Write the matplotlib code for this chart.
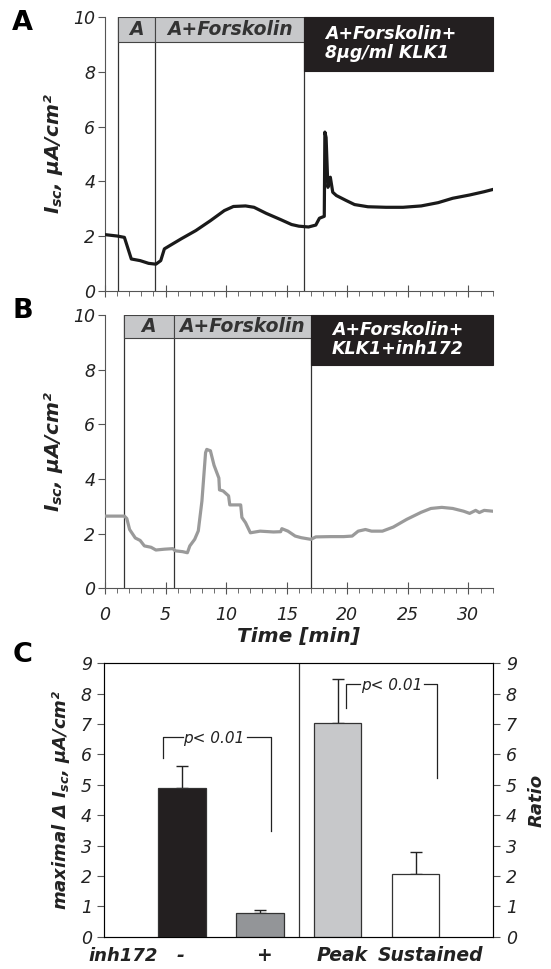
import matplotlib
matplotlib.use("Agg")
import matplotlib.pyplot as plt
from matplotlib.patches import Rectangle
from matplotlib.ticker import MultipleLocator

plt.rcParams['font.family'] = ['DejaVu Sans']
plt.rcParams['font.style'] = 'italic'
plt.rcParams['mathtext.fontset'] = 'custom'
plt.rcParams['mathtext.it'] = 'DejaVu Sans:italic:bold'
plt.rcParams['mathtext.rm'] = 'DejaVu Sans:italic:bold'

# --- panel A trace (time in min, Isc in uA/cm2) ---
a_time = [0, 1.0, 1.6, 2.17, 2.9, 3.6, 4.2, 4.6, 4.9, 5.35, 6.3, 7.5, 8.7, 9.85,
          10.6, 11.6, 12.3, 13.3, 14.5, 15.4, 16.0, 16.8, 17.4, 17.7, 18.1, 18.15,
          18.25, 18.4, 18.6, 18.8, 19.1, 19.9, 20.6, 21.7, 23.2, 24.6, 26.1, 27.5,
          28.7, 30.1, 31.3, 32]
a_isc = [2.05, 2.0, 1.95, 1.16, 1.1, 1.0, 0.97, 1.1, 1.53, 1.65, 1.9, 2.2, 2.56, 2.93,
         3.08, 3.1, 3.05, 2.83, 2.6, 2.42, 2.36, 2.33, 2.4, 2.65, 2.72, 5.8,
         5.6, 3.78, 4.15, 3.6, 3.48, 3.3, 3.15, 3.07, 3.05, 3.05, 3.1, 3.22,
         3.38, 3.5, 3.62, 3.7]

# --- panel B trace ---
b_time = [0, 1.6, 1.8, 2.03, 2.5, 2.9, 3.25, 3.8, 4.2, 4.9, 5.6, 5.8, 6.4, 6.8, 7.0,
          7.4, 7.7, 8.0, 8.3, 8.4, 8.7, 9.0, 9.4, 9.45, 9.75, 10.2, 10.3, 11.2, 11.3,
          11.6, 12.0, 12.8, 13.9, 14.5, 14.6, 15.1, 15.7, 16.2, 17.0, 17.4, 18.6,
          19.7, 20.4, 20.9, 21.5, 22.0, 22.9, 23.8, 24.9, 26.1, 26.9, 27.8, 28.7,
          29.6, 30.1, 30.6, 30.9, 31.3, 32]
b_isc = [2.64, 2.64, 2.55, 2.15, 1.84, 1.75, 1.55, 1.5, 1.4, 1.43, 1.45, 1.37, 1.34,
         1.3, 1.55, 1.79, 2.1, 3.19, 4.96, 5.08, 5.03, 4.5, 4.03, 3.6, 3.56, 3.38,
         3.05, 3.05, 2.59, 2.4, 2.03, 2.09, 2.06, 2.07, 2.18, 2.09, 1.91, 1.85, 1.79,
         1.88, 1.89, 1.89, 1.91, 2.09, 2.15, 2.09, 2.09, 2.24, 2.52, 2.78, 2.92, 2.96,
         2.92, 2.82, 2.74, 2.85, 2.77, 2.85, 2.82]

# treatment phases: (start, end, label)
a_phases = [(1.1, 4.15, "A"), (4.15, 16.43, "A+Forskolin"),
            (16.43, 32, "A+Forskolin+\n8\u03bcg/ml KLK1")]
b_phases = [(1.59, 5.66, "A"), (5.66, 17.04, "A+Forskolin"),
            (17.04, 32, "A+Forskolin+\nKLK1+inh172")]
a_box_bottoms = (9.11, 8.04)   # gray, black
b_box_bottoms = (9.15, 8.17)

# --- panel C bars ---
c_labels = ["-", "+", "Peak", "Sustained"]
c_label_x = [0.98, 2.05, 3.06, 4.19]
c_values = [4.88, 0.79, 7.02, 2.05]
c_errors = [0.75, 0.09, 1.45, 0.73]
c_colors = ["#231f20", "#939598", "#c7c8ca", "white"]
# significance brackets: (x_left, y_left_bottom, x_right, y_right_bottom, y_top, text_x)
c_brackets = [(0.76, 5.87, 2.14, 3.47, 6.57, 1.41),
              (3.11, 7.54, 4.28, 5.23, 8.33, 3.69)]

fig = plt.figure(figsize=(5.51, 9.69), dpi=100)
TXT = "#222222"
SP = "#555555"


def trace_panel(ax, t, v, phases, boxes, color, show_x):
    ax.plot(t, v, color=color, lw=2.3, zorder=3)
    ax.set_xlim(0, 32)
    ax.set_ylim(0, 10)
    for s in ("top", "right"):
        ax.spines[s].set_visible(False)
    ax.spines["left"].set_color(SP)
    ax.spines["bottom"].set_color(SP)
    ax.yaxis.set_major_locator(MultipleLocator(2))
    ax.xaxis.set_major_locator(MultipleLocator(5))
    ax.xaxis.set_minor_locator(MultipleLocator(1))
    ax.tick_params(axis="y", direction="out", length=5, labelsize=12.5, colors=SP,
                   labelcolor=TXT, pad=2)
    ax.tick_params(axis="x", which="major", direction="inout", length=8, colors=SP,
                   labelcolor=TXT, labelsize=12.5, pad=9)
    ax.tick_params(axis="x", which="minor", direction="out", length=3.5, colors=SP)
    if not show_x:
        ax.tick_params(axis="x", labelbottom=False)
    gray_bottom, black_bottom = boxes
    for i, (s, e, lab) in enumerate(phases):
        ax.axvline(s, color="#333333", lw=0.9, zorder=2)
        if i == len(phases) - 1:
            ax.add_patch(Rectangle((s, black_bottom), e - s, 10 - black_bottom,
                                   facecolor="#231f20", edgecolor="#231f20", lw=0.8,
                                   zorder=4, clip_on=False))
            ax.text(s + 1.7, (black_bottom + 10) / 2 + 0.02, lab, color="white",
                    fontsize=12.5, fontweight="bold", ha="left", va="center", zorder=5,
                    linespacing=1.05)
        else:
            ax.add_patch(Rectangle((s, gray_bottom), e - s, 10 - gray_bottom,
                                   facecolor="#c7c8ca", edgecolor="#444444", lw=0.8,
                                   zorder=4))
            ax.text((s + e) / 2, (gray_bottom + 10) / 2, lab, color="#333333",
                    fontsize=13.5, fontweight="bold", ha="center", va="center", zorder=5)
    ax.set_ylabel("$I_{sc}$, \u03bcA/cm\u00b2", fontsize=14.5, fontweight="bold",
                  color=TXT, labelpad=6)


axA = fig.add_axes([0.1906, 0.700, 0.7035, 0.2822])
trace_panel(axA, a_time, a_isc, a_phases, a_box_bottoms, "#1a1a1a", False)
axB = fig.add_axes([0.1906, 0.3929, 0.7035, 0.2821])
trace_panel(axB, b_time, b_isc, b_phases, b_box_bottoms, "#9a9a9a", True)
axB.set_xlabel("Time [min]", fontsize=14.5, fontweight="bold", color=TXT, labelpad=2)

# --- panel C ---
axC = fig.add_axes([0.1893, 0.0333, 0.7060, 0.2822])
pos = [1, 2, 3, 4]
axC.bar(pos, c_values, width=0.61, color=c_colors, edgecolor="#333333", lw=0.9, zorder=3)
axC.errorbar(pos, c_values, yerr=[[0] * 4, c_errors], fmt="none", ecolor="#222222",
             elinewidth=1, capsize=4, capthick=1, zorder=2)
axC.set_xlim(0, 5)
axC.set_ylim(0, 9)
axC.axvline(2.5, color="#333333", lw=0.9)
axC.yaxis.set_major_locator(MultipleLocator(1))
axC.tick_params(axis="y", direction="out", length=5, labelsize=12.5, colors=SP,
                labelcolor=TXT, pad=4)
axC.set_xticks([])
for s in axC.spines.values():
    s.set_color(SP)
for lx, lab in zip(c_label_x, c_labels):
    axC.text(lx, -0.3, lab, fontsize=13.5, fontweight="bold", color=TXT,
             ha="center", va="top")
axC.text(0.24, -0.34, "inh172", fontsize=13, fontweight="bold", color=TXT,
         ha="center", va="top")
axC.set_ylabel("maximal \u0394 $I_{sc}$, \u03bcA/cm\u00b2", fontsize=13,
               fontweight="bold", color=TXT, labelpad=6)
axC2 = axC.twinx()
axC2.set_ylim(0, 9)
axC2.yaxis.set_major_locator(MultipleLocator(1))
axC2.tick_params(axis="y", direction="out", length=5, labelsize=12.5, colors=SP,
                 labelcolor=TXT, pad=4)
axC2.set_ylabel("Ratio", fontsize=13, fontweight="bold", color=TXT, labelpad=8)
for xl, yl, xr, yr, yt, tx in c_brackets:
    axC.plot([xl, xl, tx - 0.4], [yl, yt, yt], color="#222222", lw=0.9)
    axC.plot([tx + 0.42, xr, xr], [yt, yt, yr], color="#222222", lw=0.9)
    axC.text(tx, yt - 0.05, "p< 0.01", fontsize=11, color=TXT, ha="center", va="center")

fig.text(0.041, 0.976, "A", fontsize=19.5, fontweight="bold", style="normal",
         ha="center", va="center")
fig.text(0.041, 0.679, "B", fontsize=19.5, fontweight="bold", style="normal",
         ha="center", va="center")
fig.text(0.041, 0.324, "C", fontsize=19.5, fontweight="bold", style="normal",
         ha="center", va="center")

fig.savefig("out.png", dpi=100)
